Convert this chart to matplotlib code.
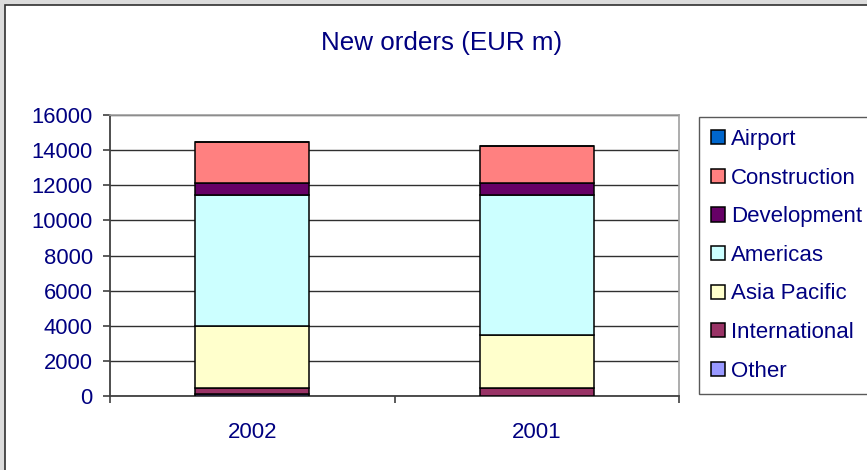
import matplotlib
matplotlib.use("Agg")
import matplotlib.pyplot as plt
from matplotlib.patches import Rectangle, Patch
import numpy as np

plt.rcParams['font.family'] = ['Liberation Sans', 'DejaVu Sans']

years = ["2002", "2001"]
series_names = ["Other", "International", "Asia Pacific", "Americas",
                "Development", "Construction", "Airport"]
other = [100, 0]
international = [330, 430]
asia_pacific = [3540, 3040]
americas = [7480, 7980]
development = [670, 670]
construction = [2340, 2100]
airport = [0, 0]
series_values = [other, international, asia_pacific, americas,
                 development, construction, airport]
colors = ["#9999ff", "#993366", "#ffffcc", "#ccffff",
          "#660066", "#ff8080", "#0066cc"]
yticks = [0, 2000, 4000, 6000, 8000, 10000, 12000, 14000, 16000]

W, H = 867, 470
fig = plt.figure(figsize=(W / 100, H / 100), dpi=100)
fig.patch.set_facecolor("#dcdcdc")
# white chart panel
fig.patches.append(Rectangle((5 / W, -0.1), 1.2, (H - 5) / H + 0.1,
                             transform=fig.transFigure, facecolor="white",
                             edgecolor="#303030", linewidth=1.2, zorder=-10))

ax = fig.add_axes([110 / W, (H - 396) / H, (679 - 110) / W, (396 - 115) / H])
ax.set_facecolor("white")
x = np.arange(len(years))
bottom = np.zeros(len(years))
handles = []
for name, vals, c in zip(series_names, series_values, colors):
    v = np.array(vals, dtype=float)
    ax.bar(x, v, width=0.40, bottom=bottom, color=c, edgecolor="black",
           linewidth=1.1, zorder=3, label=name)
    bottom += v
    handles.append(Patch(facecolor=c, edgecolor="black", linewidth=1.1, label=name))

ax.set_xlim(-0.5, 1.5)
ax.set_ylim(0, 16000)
ax.set_yticks(yticks)
ax.set_yticklabels([str(t) for t in yticks])
ax.set_xticks(x)
ax.set_xticklabels(years)
ax.set_xticks([-0.5, 0.5, 1.5], minor=True)
ax.tick_params(axis='x', which='major', length=0, pad=19, labelsize=16, labelcolor="#000080")
ax.tick_params(axis='x', which='minor', length=5, width=1.2, color="#404040", direction='out')
ax.tick_params(axis='y', length=5, width=1.2, color="#404040", direction='out',
               pad=7.5, labelsize=15.8, labelcolor="#000080")
ax.yaxis.grid(True, color="#303030", linewidth=1.0, zorder=1)
ax.set_axisbelow(True)
for s in ["top", "right"]:
    ax.spines[s].set_color("#a0a0a0")
    ax.spines[s].set_linewidth(1.2)
for s in ["left", "bottom"]:
    ax.spines[s].set_color("#404040")
    ax.spines[s].set_linewidth(1.3)

fig.text(442 / W, (H - 43) / H, "New orders (EUR m)", ha="center", va="center",
         fontsize=18.7, color="#000080")

leg = fig.legend(handles=handles[::-1], loc="upper left",
                 bbox_to_anchor=(699 / W, (H - 117) / H),
                 fontsize=16, frameon=True, fancybox=False, edgecolor="#303030",
                 handlelength=0.6, handleheight=0.6, handletextpad=0.3,
                 labelspacing=0.79, borderpad=0.55, borderaxespad=0,
                 labelcolor="#000080")
leg.get_frame().set_linewidth(1.0)

fig.savefig("out.png", dpi=100, facecolor=fig.get_facecolor())
